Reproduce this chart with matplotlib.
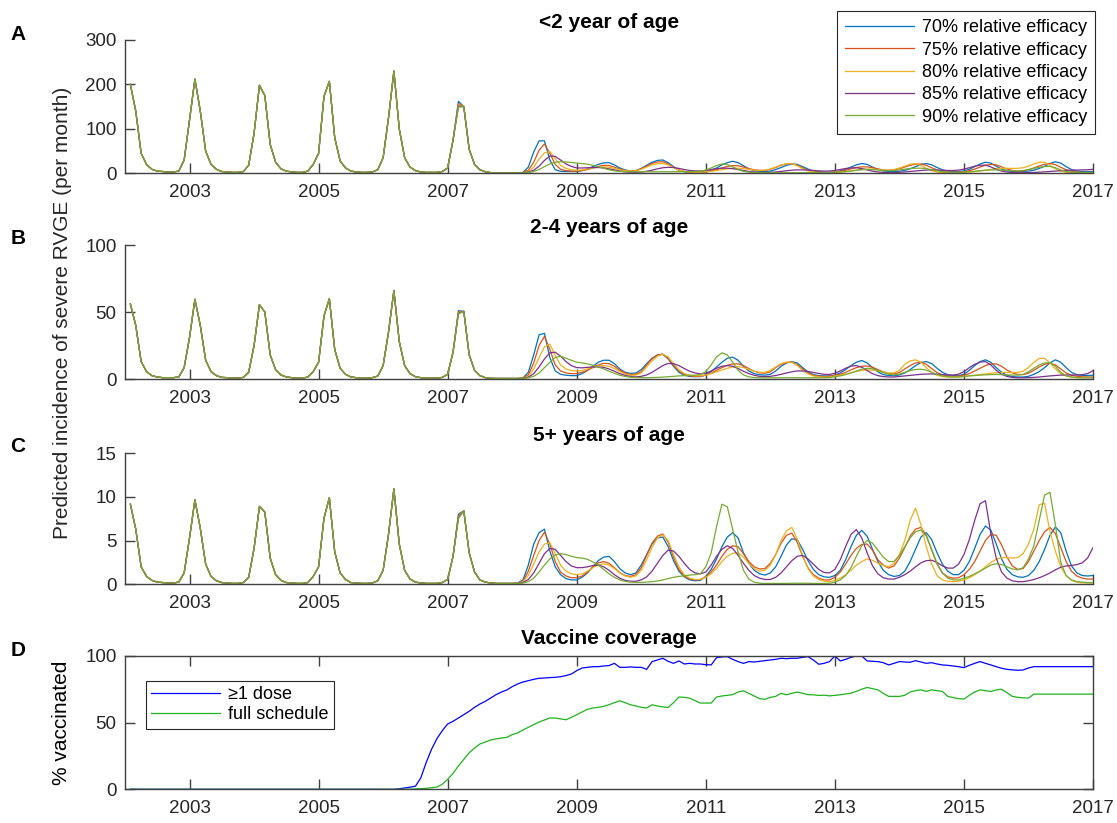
import numpy as np
import matplotlib.pyplot as plt

plt.rcParams['font.family'] = ['Liberation Sans', 'DejaVu Sans']

# monthly time points, Feb 2002 .. Jan 2017 (decimal years)
months = 2002 + np.arange(1, 181) / 12

# ---- pre-vaccine incidence, same for every scenario (Feb 2002 .. Jan 2007)
pre_lt2 = [200, 140, 45, 20, 9, 5, 4, 3, 3, 5, 30,
           120, 212, 140, 50, 20, 9, 4, 3, 2, 2, 4, 18,
           90, 198, 175, 65, 25, 10, 5, 3, 2, 2, 5, 20,
           45, 173, 207, 80, 28, 12, 5, 3, 2, 2, 3, 8,
           35, 125, 230, 100, 35, 14, 6, 3, 2, 2, 2, 4,
           12]
pre_2to4 = [56, 40, 13, 5.5, 2.5, 1.5, 1, 1, 1, 1.5, 8.5,
            31, 59.5, 40, 14, 5.5, 2.5, 1.2, 1, 0.6, 0.6, 1.2, 5,
            25, 55.5, 50, 18, 7, 3, 1.5, 1, 0.6, 0.6, 1.5, 5.5,
            12.5, 47, 60, 22, 8, 3.5, 1.5, 1, 0.6, 0.6, 1, 2.2,
            10, 35, 66, 28, 10, 4, 1.7, 1, 0.6, 0.6, 0.6, 1.2,
            3.5]
pre_5plus = [9.15, 6.3, 2.0, 0.9, 0.45, 0.25, 0.2, 0.15, 0.15, 0.25, 1.3,
             5.3, 9.65, 6.4, 2.3, 0.9, 0.4, 0.2, 0.15, 0.1, 0.1, 0.2, 0.8,
             4.1, 8.9, 8.25, 3.0, 1.1, 0.45, 0.2, 0.15, 0.1, 0.1, 0.2, 0.9,
             2.0, 7.55, 9.9, 3.7, 1.3, 0.55, 0.2, 0.15, 0.1, 0.1, 0.15, 0.4,
             1.6, 5.7, 10.9, 4.6, 1.6, 0.6, 0.25, 0.15, 0.1, 0.1, 0.1, 0.2,
             0.55]

# ---- <2 years, Feb 2007 .. Jan 2017, one row per Feb..Jan
a70 = [75, 162, 150, 54, 20, 8, 3.5, 1.5, 1, 1, 1, 1,
       1, 2, 14, 48, 73, 73, 30, 8, 4.5, 4, 4, 4,
       6, 10, 15, 20, 23.5, 24, 19, 12, 7.5, 5.5, 6, 11,
       18, 25, 29, 30, 24, 15, 7.5, 3.8, 2, 1.5, 1.5, 3.5,
       7, 12, 19, 24, 27, 24, 17, 10, 6, 4.5, 4, 5,
       8.5, 13, 18, 21, 20, 15, 9.5, 5.5, 3.3, 2.3, 2, 3,
       5.5, 9, 14, 19, 22, 20, 14, 8.5, 5.5, 4, 3.8, 4.5,
       6.5, 10, 15, 20, 22, 19, 13, 8, 5, 4, 4, 5.5,
       9, 15, 21, 25, 23, 16, 9.5, 5.5, 4, 3.8, 4, 5,
       7, 11, 16, 22, 26, 23, 15, 8.5, 5, 4, 3.8, 4]
a75 = [75, 157, 150, 54, 20, 8, 3.5, 1.5, 1, 1, 1, 1,
       1, 1.5, 7, 25, 52, 66, 45, 20, 9, 6, 5, 5,
       6, 8.5, 12, 15.5, 18, 17.5, 14, 9.5, 6.5, 5, 6, 10,
       16, 22, 25.5, 26, 21, 13.5, 7, 3.8, 2.3, 1.8, 2, 3.5,
       5.5, 8.5, 12, 15.5, 17.5, 17, 14, 10.5, 8, 6.5, 6.5, 9,
       13, 18, 21.5, 22, 18, 12, 7, 4, 2.5, 2, 2, 3,
       4.5, 7, 10, 13, 14.5, 14.5, 12.5, 10, 7.5, 6.5, 7, 10,
       14, 18, 20.5, 21, 18, 12.5, 7.5, 4.3, 2.8, 2.3, 2.5, 3.8,
       6, 9.5, 14, 18, 20, 19, 14.5, 9.5, 6.5, 5, 5.5, 8,
       12, 16.5, 20.5, 22, 19.5, 13.5, 8, 4.5, 2.8, 2, 1.8, 1.8]
a80 = [75, 154, 150, 54, 20, 8, 3.5, 1.5, 1, 1, 1, 1,
       1, 1.3, 4, 14, 32, 46, 49, 33, 18, 11, 8, 7,
       7.5, 9.5, 12, 13.5, 14.5, 13.5, 11, 8, 6, 5, 5.5, 9,
       14, 19, 21.5, 22, 19, 13, 7.5, 4.3, 2.8, 2.3, 2.3, 3.3,
       4.5, 6, 8, 10, 11.2, 11.5, 10.5, 8.8, 7.3, 6.5, 7, 9.5,
       14, 19, 21.5, 22, 17, 10.5, 5.5, 3, 1.8, 1.3, 1.3, 2,
       2.8, 4, 5.5, 7.3, 8.8, 9.5, 9.2, 8.3, 7.5, 7.3, 8.5, 12,
       16, 20.5, 22, 18, 11, 5.8, 2.8, 1.6, 1.2, 1.2, 1.4, 2,
       2.8, 3.8, 5.2, 7, 9, 10.5, 11.3, 11.3, 11, 11.2, 12.5, 16,
       21, 25, 25, 18, 10, 5, 2.5, 1.5, 1, 0.8, 0.8, 0.8]
a85 = [75, 151, 150, 54, 20, 8, 3.5, 1.5, 1, 1, 1, 1,
       1, 1.2, 2.5, 7, 16, 29, 39, 38, 30, 21, 15.5, 12,
       12, 12.5, 13, 13, 12, 10, 7.5, 5, 3.3, 2.5, 2.3, 3,
       4.5, 7, 10, 12.5, 13.5, 13, 11, 8.5, 6.5, 5.5, 5.3, 6.5,
       8.5, 10.5, 11.5, 11.5, 10.5, 8.5, 6.3, 4.3, 3, 2.3, 2, 2.3,
       3, 4.3, 5.7, 7, 7.7, 7.7, 7.2, 6.3, 5.5, 5, 5.2, 6.5,
       8.5, 10.8, 12.2, 12.5, 10.5, 7.5, 4.7, 3, 2.1, 1.8, 1.8, 2.3,
       3, 4, 5.2, 6.3, 7.3, 7.7, 7.4, 6.8, 6.3, 6.3, 7.2, 9.5,
       12.5, 16, 18, 18.4, 14.5, 9, 5, 2.8, 1.8, 1.4, 1.3, 1.5,
       1.9, 2.5, 3.3, 4.2, 5.2, 6, 6.7, 7, 7.3, 7.5, 8, 9]
a90 = [75, 149, 150, 54, 20, 8, 3.5, 1.5, 1, 1, 1, 1,
       1, 1.1, 1.8, 4, 8.5, 15, 21, 25, 26, 25.5, 24.5, 23,
       22, 20.5, 18, 15, 11.5, 8, 5.5, 4.3, 3.7, 3.5, 3.4, 3.4,
       3.4, 3.4, 3.4, 3.5, 3.5, 3.5, 3.6, 3.7, 3.8, 4, 4.5, 7.5,
       12, 17.5, 21, 20, 14.5, 8.5, 4.5, 2.5, 1.7, 1.4, 1.3, 1.2,
       1.2, 1.2, 1.2, 1.2, 1.2, 1.2, 1.2, 1.2, 1.2, 1.2, 1.4, 2,
       2.8, 3.8, 5.2, 6.7, 8, 8.7, 8.4, 7.5, 6.5, 6, 6.3, 7.5,
       9.3, 10.8, 11.5, 11.6, 10.5, 8, 5.3, 3.5, 2.5, 2.1, 2.1, 2.6,
       3.4, 4.5, 5.8, 7, 7.6, 7.7, 7.2, 6.4, 5.7, 5.5, 6.3, 8.5,
       11, 13.5, 15.2, 15.5, 12.5, 7.5, 4, 2.5, 1.9, 1.7, 1.7, 1.8]

# ---- 2-4 years
b70 = [20, 51, 50.5, 18, 6.5, 2.5, 1, 0.5, 0.4, 0.4, 0.4, 0.4,
       0.4, 0.8, 5, 18, 33, 34, 16, 6, 3.5, 2.8, 2.5, 2.5,
       4, 6.5, 9.5, 12.5, 14, 14, 11.5, 7.5, 5, 4.2, 4.5, 7,
       11.5, 15.5, 18, 18.5, 15, 9.5, 5, 2.8, 1.9, 1.7, 1.8, 3,
       5.5, 9, 12.5, 15.5, 16.3, 14, 9.5, 6, 4, 3.2, 2.9, 3.5,
       6, 9.5, 12, 13, 12, 8.5, 5.3, 3.3, 2.5, 2.3, 2.3, 3,
       4.5, 7, 10, 12.5, 13.8, 12, 8.5, 5.3, 3.3, 2.6, 2.4, 3,
       4.5, 7, 10, 12.3, 13, 11.5, 8, 5, 3.2, 2.5, 2.5, 3.5,
       6.5, 10, 13, 14.3, 12.5, 8.5, 5, 2.8, 1.8, 1.5, 1.5, 2,
       3.5, 5.5, 8.5, 12, 14.3, 12.5, 8.5, 5, 3.2, 2.7, 2.6, 2.8]
b75 = [20, 50, 50.5, 18, 6.5, 2.5, 1, 0.5, 0.4, 0.4, 0.4, 0.4,
       0.4, 0.7, 3, 12, 25, 31.8, 22, 10.5, 6, 4.5, 4, 4,
       5, 6.5, 8.5, 10.5, 11.7, 11.5, 9.5, 6.5, 4.5, 3.4, 3.5, 5.5,
       10.5, 15, 17.8, 18.5, 15.5, 10.5, 6, 3.5, 2.3, 2, 2, 2.8,
       4.3, 6.5, 8.5, 10.3, 11.2, 11.3, 10, 7.8, 5.8, 4.6, 4.3, 5.3,
       8.5, 11, 12.3, 12.5, 10.8, 7.5, 4.5, 2.8, 2.1, 1.9, 2, 2.8,
       3.5, 5, 6.8, 8.5, 9.5, 9.7, 8.8, 7, 5.3, 4.1, 3.8, 4.8,
       7.5, 10, 12, 12.5, 11, 7.8, 4.8, 3, 2.2, 2, 2.1, 2.8,
       4, 6, 8, 10, 11.2, 11.3, 9.5, 6.7, 4.6, 3.4, 3.3, 4.3,
       6.5, 9, 11, 11.8, 10.5, 7.5, 4.5, 2.8, 2, 1.6, 1.5, 1.5]
b80 = [20, 49.5, 50.5, 18, 6.5, 2.5, 1, 0.5, 0.4, 0.4, 0.4, 0.4,
       0.4, 0.6, 2, 7.5, 16, 24, 26, 17.5, 10.5, 7.5, 6.3, 6,
       6.3, 7.5, 8.8, 9.7, 10, 9.5, 7.8, 5.5, 3.7, 2.8, 2.9, 4.5,
       9, 13.5, 17, 18.5, 16.5, 11.5, 6.8, 4, 2.8, 2.4, 2.4, 3,
       4, 5.3, 6.7, 8, 9, 9.2, 8.5, 7.2, 5.8, 5, 5, 6.5,
       9, 11.5, 12.6, 12.6, 10, 6.5, 3.8, 2.3, 1.6, 1.4, 1.5, 2.2,
       2.8, 3.6, 4.6, 5.6, 6.4, 6.8, 6.6, 6, 5.2, 4.5, 4.6, 6.5,
       11, 13.5, 14.3, 12.5, 8.5, 5, 2.8, 1.8, 1.4, 1.4, 1.5, 2,
       2.4, 2.8, 3.3, 3.8, 4.3, 4.7, 4.9, 4.9, 4.8, 4.9, 5.8, 8.5,
       12.5, 15.3, 15.5, 12, 7.5, 4, 2.2, 1.5, 1.1, 1, 1, 1]
b85 = [20, 49, 50.5, 18, 6.5, 2.5, 1, 0.5, 0.4, 0.4, 0.4, 0.4,
       0.4, 0.5, 1.3, 4, 9, 15, 19.5, 20, 17, 13, 10, 8.5,
       8.3, 8.7, 9, 9, 8.7, 7.5, 5.8, 4, 2.7, 1.9, 1.6, 2,
       3, 5, 7.5, 10, 11.6, 11.4, 10, 7.8, 5.8, 4.5, 3.8, 4.3,
       6, 8, 9.5, 10, 9.5, 7.8, 5.8, 4, 2.8, 2, 1.8, 2,
       2.6, 3.5, 4.5, 5.4, 6, 6, 5.6, 4.9, 4.1, 3.5, 3.4, 4.3,
       6, 8, 9.6, 10, 8.8, 6.3, 4, 2.5, 1.8, 1.5, 1.5, 1.9,
       2.3, 2.7, 3.1, 3.5, 3.7, 3.8, 3.6, 3.3, 3, 3, 3.6, 5.5,
       8.5, 11, 12.6, 13, 10.5, 6.5, 3.5, 1.9, 1.2, 0.9, 0.9, 1,
       1.2, 1.5, 1.9, 2.3, 2.6, 2.9, 3, 3, 3, 3.2, 4, 6.2]
b90 = [20, 48.5, 50.5, 18, 6.5, 2.5, 1, 0.5, 0.4, 0.4, 0.4, 0.4,
       0.4, 0.5, 0.9, 2, 4.5, 8.5, 12.5, 16, 17, 15.5, 14, 12.5,
       12, 11.3, 10.3, 9, 7.5, 5.8, 4.2, 2.8, 1.9, 1.3, 1.1, 1,
       1, 1.1, 1.2, 1.4, 1.7, 2, 2.3, 2.5, 2.7, 2.9, 3.3, 5.5,
       10.5, 16.5, 19.5, 18, 12.5, 6.5, 3, 1.6, 1.1, 0.9, 0.9, 0.9,
       0.9, 0.9, 0.9, 0.9, 0.9, 0.9, 0.9, 0.9, 0.9, 0.95, 1.1, 1.6,
       2.3, 3.3, 4.6, 6, 7.3, 8, 7.6, 6.3, 4.8, 3.6, 3.1, 3.6,
       5, 6.3, 7.1, 7.3, 6.6, 5, 3.4, 2.3, 1.7, 1.5, 1.5, 1.9,
       2.3, 2.6, 2.9, 3.1, 3.3, 3.4, 3.3, 3.1, 2.9, 2.9, 3.4, 5.5,
       8, 10.5, 12, 12.2, 9.5, 5, 2.4, 1.4, 1, 0.9, 0.9, 0.9]

# ---- 5+ years
c70 = [3.2, 8.0, 8.4, 3.6, 1.4, 0.5, 0.25, 0.15, 0.1, 0.1, 0.1, 0.1,
       0.15, 0.5, 2.2, 4.6, 5.9, 6.3, 3.8, 2.0, 1.1, 0.65, 0.5, 0.5,
       0.8, 1.3, 2.0, 2.7, 3.1, 3.2, 2.6, 1.8, 1.3, 1.1, 1.3, 2.2,
       3.4, 4.6, 5.3, 5.4, 4.3, 2.7, 1.5, 0.85, 0.5, 0.4, 0.45, 0.9,
       1.7, 2.9, 4.3, 5.4, 5.9, 5.3, 3.6, 2.4, 1.6, 1.2, 1.05, 1.3,
       2.0, 3.2, 4.5, 5.2, 5.1, 4.0, 2.7, 1.7, 1.1, 0.85, 0.8, 1.0,
       1.6, 2.8, 4.3, 5.6, 6.15, 5.5, 4.0, 2.6, 1.6, 1.1, 0.9, 1.0,
       1.5, 2.6, 4.0, 5.4, 5.9, 5.1, 3.6, 2.3, 1.5, 1.1, 1.1, 1.6,
       2.6, 4.1, 5.7, 6.65, 6.2, 4.6, 2.9, 1.7, 1.1, 0.85, 0.8, 1.0,
       1.6, 2.6, 4.0, 5.6, 6.55, 5.9, 3.8, 2.1, 1.3, 1.0, 0.95, 1.0]
c75 = [3.2, 7.8, 8.4, 3.6, 1.4, 0.5, 0.25, 0.15, 0.1, 0.1, 0.1, 0.1,
       0.12, 0.35, 1.5, 3.3, 5.0, 5.95, 4.6, 2.6, 1.4, 0.95, 0.75, 0.75,
       0.95, 1.4, 2.0, 2.45, 2.6, 2.4, 1.9, 1.35, 1.0, 0.9, 1.1, 1.9,
       3.3, 4.7, 5.5, 5.75, 4.8, 3.1, 1.7, 0.95, 0.6, 0.5, 0.55, 0.85,
       1.4, 2.2, 3.2, 4.0, 4.4, 4.3, 3.5, 2.6, 2.0, 1.75, 1.8, 2.4,
       3.4, 4.7, 5.6, 5.85, 4.8, 3.2, 1.9, 1.1, 0.7, 0.5, 0.5, 0.8,
       1.4, 2.3, 3.3, 4.1, 4.55, 4.6, 3.9, 2.8, 2.2, 1.85, 2.1, 3.0,
       4.2, 5.5, 6.3, 6.5, 5.6, 3.9, 2.3, 1.3, 0.85, 0.7, 0.75, 1.1,
       1.7, 2.6, 3.8, 5.0, 5.7, 5.6, 4.5, 3.1, 2.1, 1.7, 1.8, 2.6,
       3.8, 5.0, 6.0, 6.5, 5.8, 4.2, 2.6, 1.5, 0.95, 0.7, 0.6, 0.6]
c80 = [3.2, 7.7, 8.4, 3.6, 1.4, 0.5, 0.25, 0.15, 0.1, 0.1, 0.1, 0.1,
       0.12, 0.3, 1.0, 2.3, 3.7, 4.6, 4.75, 3.5, 2.2, 1.5, 1.2, 1.1,
       1.2, 1.5, 1.9, 2.2, 2.35, 2.2, 1.8, 1.3, 0.95, 0.8, 0.95, 1.6,
       2.8, 4.2, 5.3, 5.65, 5.0, 3.4, 2.0, 1.1, 0.7, 0.55, 0.55, 0.8,
       1.2, 1.8, 2.6, 3.2, 3.55, 3.6, 3.1, 2.4, 1.8, 1.5, 1.6, 2.2,
       3.4, 5.0, 6.1, 6.5, 5.2, 3.3, 1.8, 0.95, 0.55, 0.35, 0.3, 0.45,
       0.7, 1.1, 1.6, 2.2, 2.6, 2.9, 2.75, 2.4, 2.15, 2.0, 2.4, 3.4,
       5.0, 7.3, 8.7, 6.8, 4.3, 2.3, 1.0, 0.5, 0.35, 0.3, 0.35, 0.5,
       0.75, 1.1, 1.5, 2.0, 2.5, 2.85, 3.05, 3.05, 3.0, 3.05, 3.5, 4.6,
       6.3, 9.1, 9.25, 6.0, 3.8, 2.0, 1.0, 0.45, 0.25, 0.18, 0.15, 0.15]
c85 = [3.2, 7.6, 8.4, 3.6, 1.4, 0.5, 0.25, 0.15, 0.1, 0.1, 0.1, 0.1,
       0.1, 0.2, 0.55, 1.3, 2.4, 3.5, 4.1, 4.0, 3.3, 2.6, 2.1, 1.9,
       1.9, 2.0, 2.15, 2.2, 2.0, 1.6, 1.1, 0.7, 0.45, 0.35, 0.35, 0.5,
       0.85, 1.5, 2.4, 3.3, 3.9, 3.8, 3.2, 2.4, 1.7, 1.3, 1.2, 1.4,
       2.2, 3.2, 4.0, 4.4, 4.1, 3.3, 2.4, 1.6, 1.0, 0.7, 0.55, 0.55,
       0.8, 1.3, 2.0, 2.7, 3.2, 3.3, 2.9, 2.3, 1.7, 1.35, 1.3, 1.7,
       2.8, 4.3, 5.7, 6.25, 5.3, 3.6, 2.1, 1.2, 0.75, 0.6, 0.6, 0.8,
       1.1, 1.5, 2.0, 2.45, 2.7, 2.75, 2.5, 2.1, 1.85, 1.85, 2.3, 3.4,
       5.1, 7.3, 9.2, 9.55, 5.8, 3.0, 1.4, 0.7, 0.4, 0.3, 0.3, 0.4,
       0.55, 0.75, 1.0, 1.3, 1.65, 1.95, 2.1, 2.15, 2.25, 2.45, 3.0, 4.2]
c90 = [3.2, 7.5, 8.4, 3.6, 1.4, 0.5, 0.25, 0.15, 0.1, 0.1, 0.1, 0.1,
       0.1, 0.15, 0.3, 0.7, 1.4, 2.2, 2.9, 3.35, 3.5, 3.4, 3.2, 3.05,
       3.0, 2.85, 2.55, 2.2, 1.7, 1.2, 0.8, 0.5, 0.33, 0.25, 0.22, 0.22,
       0.25, 0.3, 0.38, 0.5, 0.65, 0.8, 0.9, 0.98, 1.05, 1.1, 1.2, 2.0,
       3.6, 6.6, 9.15, 8.85, 6.3, 3.7, 1.6, 0.6, 0.25, 0.13, 0.1, 0.1,
       0.1, 0.1, 0.1, 0.12, 0.12, 0.12, 0.12, 0.1, 0.1, 0.1, 0.12, 0.25,
       0.5, 1.0, 1.9, 3.2, 4.4, 5.0, 4.7, 3.9, 3.1, 2.6, 2.6, 3.3,
       4.3, 5.3, 6.0, 6.2, 5.5, 4.0, 2.4, 1.3, 0.7, 0.5, 0.5, 0.7,
       0.9, 1.2, 1.5, 1.85, 2.2, 2.35, 2.25, 2.0, 1.75, 1.65, 1.9, 2.9,
       4.4, 7.3, 10.2, 10.5, 6.8, 2.5, 1.0, 0.5, 0.3, 0.25, 0.2, 0.2]

# ---- vaccine coverage (%), Feb 2002 .. Jan 2017
cov_one_dose = [0, 0, 0, 0, 0, 0, 0, 0, 0, 0, 0, 0,
                0, 0, 0, 0, 0, 0, 0, 0, 0, 0, 0, 0,
                0, 0, 0, 0, 0, 0, 0, 0, 0, 0, 0, 0,
                0, 0, 0, 0, 0, 0, 0, 0, 0, 0, 0, 0,
                0, 0, 0.4, 1.0, 1.6, 2.3, 8.5, 20, 30, 38, 44, 49,
                51, 53.5, 56, 58.5, 61.5, 64, 66, 68.5, 71, 73, 74.5, 77,
                79, 80.5, 81.5, 82.5, 83.3, 83.5, 83.8, 84, 84.5, 85.3, 86.5, 89,
                91, 91.5, 92, 92, 92.5, 92.8, 94.5, 91.5, 91.5, 91.8, 91.5, 91.5,
                90, 95.8, 97, 98.3, 96, 94.5, 96.3, 94, 94.5, 94, 94, 93.5,
                93.3, 98.8, 99.3, 99.5, 97.5, 95.8, 94.5, 95.8, 95.5, 96, 96.5, 97,
                97.5, 98.3, 98, 98.3, 98.3, 99, 99.5, 97, 93.8, 94.5, 95.8, 100,
                96.3, 97.5, 99, 100, 100, 96.3, 96, 95.8, 95, 93.3, 94.5, 95.8,
                95.5, 95.3, 96.5, 95.5, 94.5, 95, 94, 93.3, 93, 92.5, 92, 91.3,
                93, 94.5, 95.8, 94.5, 93.3, 92, 90.8, 90, 89.6, 89.3, 89.5, 91,
                92, 92, 92, 92, 92, 92, 92, 92, 92, 92, 92, 92]
cov_full = [0, 0, 0, 0, 0, 0, 0, 0, 0, 0, 0, 0,
            0, 0, 0, 0, 0, 0, 0, 0, 0, 0, 0, 0,
            0, 0, 0, 0, 0, 0, 0, 0, 0, 0, 0, 0,
            0, 0, 0, 0, 0, 0, 0, 0, 0, 0, 0, 0,
            0, 0, 0, 0, 0.1, 0.3, 0.5, 0.7, 1.2, 1.7, 3.8, 7.5,
            12, 17.5, 22.5, 27.4, 31, 34, 35.5, 37, 37.8, 38.5, 39, 41,
            42.3, 44.5, 46.5, 48.5, 50.5, 52, 53.5, 53.5, 52.8, 52.2, 54, 56,
            58, 60, 61, 61.5, 62.2, 63.5, 65, 66.4, 65, 63.4, 62.5, 61.5,
            61, 63.4, 62.5, 61.8, 61.4, 65, 69.2, 69, 68.4, 66.5, 64.7, 64.7,
            64.7, 69.2, 70, 70.5, 71, 73, 73.9, 72, 70, 68, 67.5, 69,
            69.7, 72, 70.9, 72, 72.9, 72, 71, 70.9, 70.4, 70.6, 70.1, 70.5,
            70.9, 71.5, 72.1, 73.5, 75.1, 76.4, 75.5, 74.6, 72, 69.7, 69.7, 69.7,
            70.5, 73, 74, 74.6, 73.4, 74.6, 74, 73.4, 69.7, 68.8, 68, 67.7,
            70.5, 73, 74.6, 74, 73.4, 74.5, 75.1, 72.5, 69.7, 69, 68.6, 68.4,
            71.4, 71.4, 71.4, 71.4, 71.4, 71.4, 71.4, 71.4, 71.4, 71.4, 71.4, 71.4]

labels = ['70% relative efficacy', '75% relative efficacy', '80% relative efficacy',
          '85% relative efficacy', '90% relative efficacy']
colors = ['#0072BD', '#D95319', '#EDB120', '#7E2F8E', '#77AC30']
axis_col = '#404040'

W, H = 1117, 823
fig = plt.figure(figsize=(W / 100, H / 100), dpi=100)


def box(top, bottom, left=125, right=1093):
    return [left / W, 1 - bottom / H, (right - left) / W, (bottom - top) / H]


def style(ax, full_box=False):
    for side in ['left', 'bottom', 'top', 'right']:
        ax.spines[side].set_color(axis_col)
        ax.spines[side].set_linewidth(1.0)
        if side in ('top', 'right'):
            ax.spines[side].set_visible(full_box)
    ax.tick_params(direction='in', length=7, width=1.0, color=axis_col,
                   labelsize=13.5, labelcolor='#262626',
                   top=full_box, right=full_box)
    ax.tick_params(axis='x', pad=8)
    ax.tick_params(axis='y', pad=6)
    ax.set_xlim(2002, 2017)
    ax.set_xticks(range(2003, 2018, 2))


def frame(leg):
    leg.get_frame().set_edgecolor('#262626')
    leg.get_frame().set_linewidth(0.8)


panels = [
    (40, 173.3, pre_lt2, [a70, a75, a80, a85, a90], '<2 year of age', 300, [0, 100, 200, 300], 'A'),
    (245, 379, pre_2to4, [b70, b75, b80, b85, b90], '2-4 years of age', 100, [0, 50, 100], 'B'),
    (453, 584.3, pre_5plus, [c70, c75, c80, c85, c90], '5+ years of age', 15, [0, 5, 10, 15], 'C'),
]

for top, bottom, pre, series, title, ymax, yticks, letter in panels:
    ax = fig.add_axes(box(top, bottom))
    style(ax)
    for vals, col, lab in zip(series, colors, labels):
        ax.plot(months, pre + vals, color=col, lw=0.9, label=lab)
    ax.set_ylim(0, ymax)
    ax.set_yticks(yticks)
    ax.set_title(title, fontsize=15, fontweight='bold', pad=8.5)
    fig.text(18 / W, 1 - (top - 6) / H, letter, fontsize=15, fontweight='bold',
             ha='center', va='center')
    if letter == 'A':
        leg = ax.legend(loc='upper right', bbox_to_anchor=(1095 / W, 1 - 11 / H),
                        bbox_transform=fig.transFigure, borderaxespad=0,
                        fontsize=13, handlelength=3.8, handletextpad=0.45,
                        labelspacing=0.3, borderpad=0.45, fancybox=False,
                        framealpha=1)
        frame(leg)

# panel D: vaccine coverage
ax_d = fig.add_axes(box(656, 789.3))
style(ax_d, full_box=True)
ax_d.plot(months, cov_one_dose, color='#0000FF', lw=0.9, label='≥1 dose')
ax_d.plot(months, cov_full, color='#1DB31D', lw=0.9, label='full schedule')
ax_d.set_ylim(0, 100)
ax_d.set_yticks([0, 50, 100])
ax_d.set_ylabel('% vaccinated', fontsize=15, labelpad=10)
ax_d.set_title('Vaccine coverage', fontsize=15, fontweight='bold', pad=8.5)
fig.text(18 / W, 1 - 650 / H, 'D', fontsize=15, fontweight='bold', ha='center', va='center')
leg = ax_d.legend(loc='upper left', bbox_to_anchor=(146 / W, 1 - 681 / H),
                  bbox_transform=fig.transFigure, borderaxespad=0,
                  fontsize=13, handlelength=3.8, handletextpad=0.45,
                  labelspacing=0.15, borderpad=0.3, fancybox=False, framealpha=1)
frame(leg)

fig.text(62.5 / W, 1 - 313 / H, 'Predicted incidence of severe RVGE (per month)',
         fontsize=15, rotation=90, ha='center', va='center', color='#262626')

fig.savefig('out.png', dpi=100)
